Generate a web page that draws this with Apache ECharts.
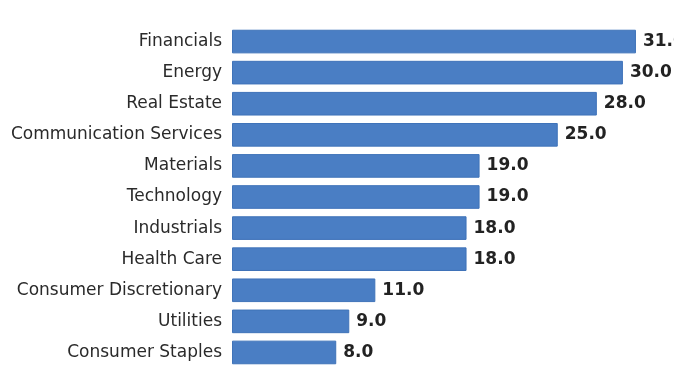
<!DOCTYPE html>
<html><head><meta charset="utf-8">
<script src="https://cdn.jsdelivr.net/npm/echarts@6/dist/echarts.min.js"></script>
<style>html,body{margin:0;padding:0;background:#fff}#c{width:674px;height:368px}</style>
</head><body><div id="c"></div>
<script>
const categories = ["Financials","Energy","Real Estate","Communication Services","Materials","Technology","Industrials","Health Care","Consumer Discretionary","Utilities","Consumer Staples"];
const values = [31.0,30.0,28.0,25.0,19.0,19.0,18.0,18.0,11.0,9.0,8.0];
const chart = echarts.init(document.getElementById('c'), null, {renderer:'canvas'});
chart.setOption({
  animation:false,
  grid:{left:232, top:26, width:430, height:343, containLabel:false},
  xAxis:{type:'value', min:0, max:33, show:false},
  yAxis:{type:'category', data:categories, inverse:true,
    axisLine:{show:false}, axisTick:{show:false},
    axisLabel:{color:'#2a2a2a', fontFamily:'DejaVu Sans', fontSize:17, margin:10}},
  series:[{type:'bar', data:values, barCategoryGap:'24%',
    itemStyle:{color:'#4a7ec4', borderColor:'#3f73b9', borderWidth:1},
    label:{show:true, position:'right', distance:7, color:'#222', fontFamily:'DejaVu Sans', fontWeight:'bold', fontSize:17,
      formatter:p=>p.value.toFixed(1)}}]
});
</script></body></html>
